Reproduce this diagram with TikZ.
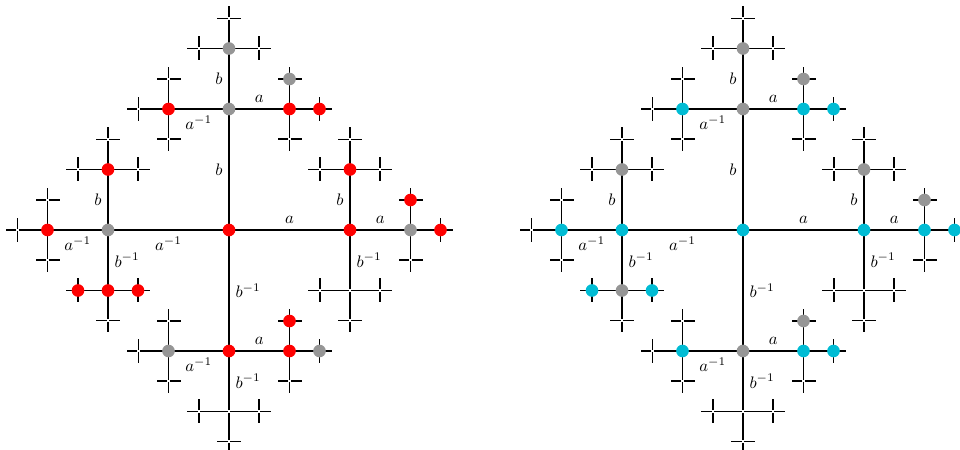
\documentclass[tikz,border=0pt]{standalone}
\usepackage{amsmath}
\usepackage{amssymb}
\usetikzlibrary{calc}

\definecolor{dotred}{RGB}{255,0,0}
\definecolor{dotgray}{RGB}{150,150,150}
\definecolor{dotcyan}{RGB}{0,188,212}

% generator written on an edge of direction 0,1,2,3
\newcommand{\gen}[1]{\ifcase#1 $a$\or $b$\or $a^{-1}$\or $b^{-1}$\fi}

\tikzset{
  vtx/.style={circle, inner sep=0pt, minimum size=1.3pt},
  edge/.style={line width=1.15pt, black},
  lab0/.style={above},
  lab1/.style={left},
  lab2/.style={below},
  lab3/.style={right}
}

\begin{document}
\begin{tikzpicture}[x=0.6pt, y=0.6pt]
  \useasboundingbox (0,0) rectangle (960,450);
  \clip (0,0) rectangle (960,450);
  \foreach \t/\cx in {L/229, R/743} {
    \node[vtx] (\t) at (\cx,220) {};
    \foreach \i in {0,...,3} {
      \node[vtx] (\t\i) at ($(\t)+(\i*90:121)$) {};
      \draw[edge] (\t) -- node[lab\i] {\gen{\i}} (\t\i);
      \foreach \p in {-1,0,1} {
        \pgfmathtruncatemacro\j{mod(\i+\p+4,4)}
        \node[vtx] (\t\i\j) at ($(\t\i)+(\j*90:60.5)$) {};
        \draw[edge] (\t\i) -- node[lab\j] {\gen{\j}} (\t\i\j);
        \foreach \q in {-1,0,1} {
          \pgfmathtruncatemacro\k{mod(\j+\q+4,4)}
          \node[vtx] (\t\i\j\k) at ($(\t\i\j)+(\k*90:30)$) {};
          \draw[edge] (\t\i\j) -- (\t\i\j\k);
          \foreach \r in {-1,0,1} {
            \pgfmathtruncatemacro\m{mod(\k+\r+4,4)}
            \coordinate (\t\i\j\k\m) at ($(\t\i\j\k)+(\m*90:12)$);
            \draw[edge] (\t\i\j\k) -- (\t\i\j\k\m);
          }
        }
      }
    }
  }
  % coloured vertices, left tree
  \foreach \n in {L,L0,L3,L01,L22,L21,L23,L10,L12,L30,L000,L001,L232,L230,L100,L301}
    \fill[dotred] (\n) circle (3.8pt);
  \foreach \n in {L1,L2,L00,L11,L32,L101,L300}
    \fill[dotgray] (\n) circle (3.8pt);
  % coloured vertices, right tree
  \foreach \n in {R,R0,R2,R00,R22,R10,R12,R30,R32,R000,R232,R230,R100,R300}
    \fill[dotcyan] (\n) circle (3.8pt);
  \foreach \n in {R1,R3,R01,R21,R23,R11,R001,R101,R301}
    \fill[dotgray] (\n) circle (3.8pt);
\end{tikzpicture}
\end{document}
